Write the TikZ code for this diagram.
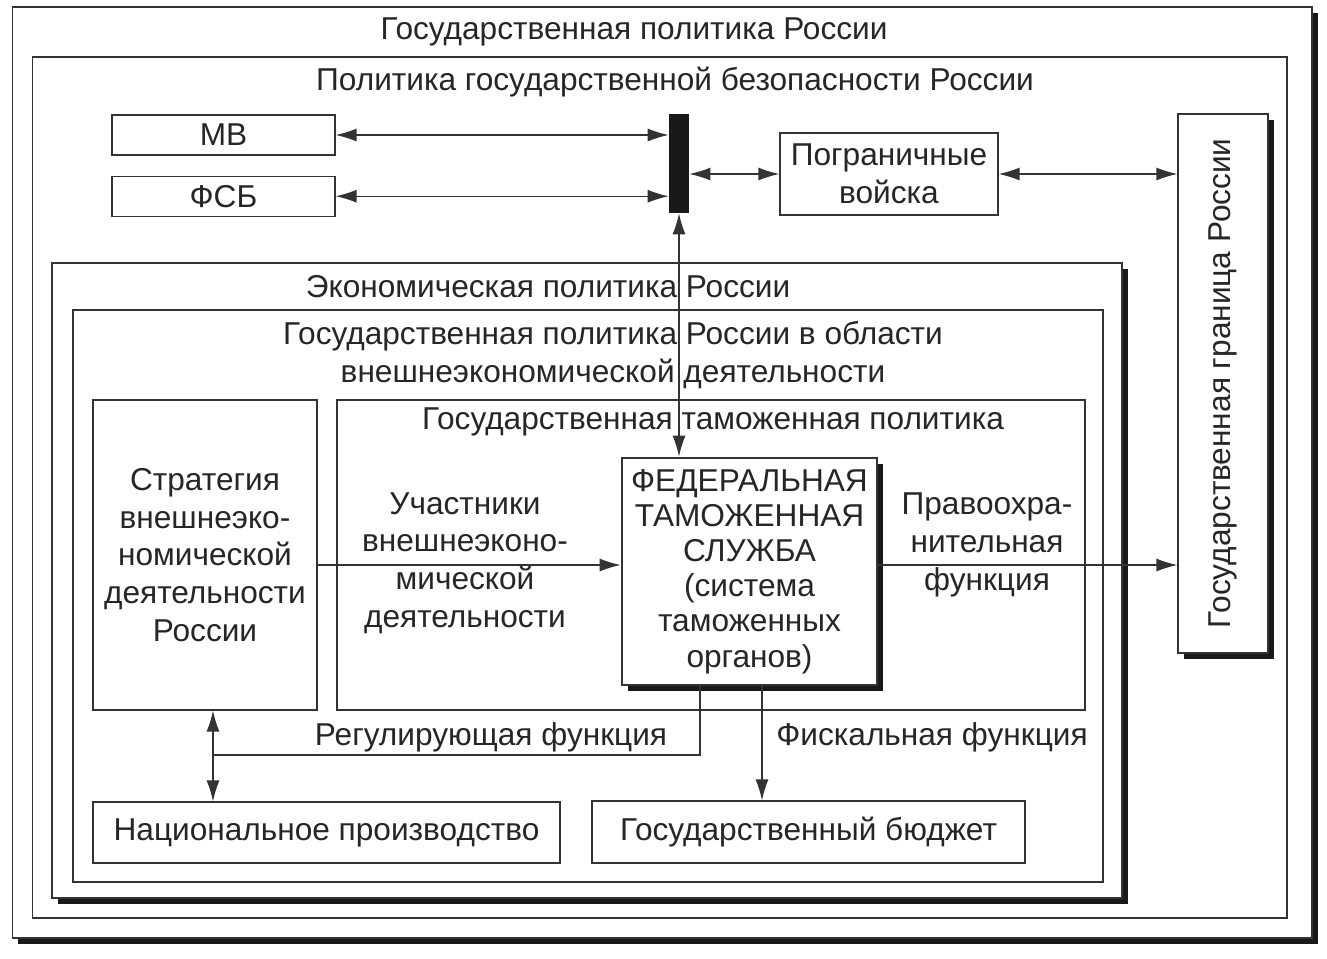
\documentclass[tikz,border=0pt]{standalone}
\usepackage{fontspec}
\setmainfont{Liberation Sans}
\usetikzlibrary{arrows.meta, positioning, shadows}

\begin{document}
\begin{tikzpicture}[
    x=0.02cm, y=-0.02cm,
    every node/.style={
        font=\fontsize{18}{21.5}\selectfont,
        text=black!85
    },
    frame/.style={
        draw=black!80,
        fill=white,
        line width=0.7pt,
        inner sep=0pt
    },
    shadowed/.style={
        drop shadow={shadow xshift=0.12cm, shadow yshift=-0.12cm,
                     fill=black!90, opacity=1}
    },
    box/.style={
        frame,
        align=center
    },
    agency/.style={
        box,
        minimum width=4.46cm,
        minimum height=0.8cm
    },
    title/.style={
        align=center,
        inner sep=0pt
    },
    arrow/.style={
        -{Latex[length=0.42cm, width=0.26cm]},
        line width=0.7pt,
        draw=black!80
    },
    twoway/.style={
        {Latex[length=0.42cm, width=0.26cm]}-{Latex[length=0.42cm, width=0.26cm]},
        line width=0.7pt,
        draw=black!80
    },
    link/.style={
        line width=0.7pt,
        draw=black!80
    }
]
\useasboundingbox (0,0) rectangle (1327,958);

% Frames
\node (state) [frame, shadowed, minimum width=26cm, minimum height=18.62cm] at (662,472.5) {};
\node (security) [frame, minimum width=25.1cm, minimum height=17.22cm] at (659.5,487.5) {};
\node (econ) [frame, shadowed, minimum width=21.4cm, minimum height=12.7cm] at (587,580.5) {};
\node (ved) [frame, minimum width=20.6cm, minimum height=11.44cm] at (588,596) {};
\node (customs) [frame, minimum width=14.96cm, minimum height=6.2cm] at (711,555) {};

% Nodes
\node (mv) [agency] at (223.5,135) {МВ};
\node (fsb) [agency, below=0.4cm of mv] {ФСБ};
\node (hub) [fill=black!90, inner sep=0pt, minimum width=0.4cm, minimum height=1.98cm] at (679,163.5) {};
\node (troops) [box, minimum width=4.36cm, minimum height=1.64cm] at (889,174) {Пограничные\\войска};
\node (border) [frame, shadowed, minimum width=1.8cm, minimum height=10.78cm] at (1223,383.5) {};
\node (borderlabel) [rotate=90] at (border) {Государственная граница России};
\node (strategy) [box, minimum width=4.48cm, minimum height=6.2cm] at (205,555) {Стратегия\\внешнеэко-\\номической\\деятельности\\России};
\node (fts) [box, shadowed, line width=1.6pt, minimum width=5.1cm, minimum height=4.54cm,
    font=\fontsize{18}{20}\selectfont] at (749.5,571.5) {ФЕДЕРАЛЬНАЯ\\ТАМОЖЕННАЯ\\СЛУЖБА\\(система\\таможенных\\органов)};
\node (production) [box, minimum width=9.34cm, minimum height=1.22cm] at (326.5,832.5) {Национальное производство};
\node (budget) [box, minimum width=8.66cm, minimum height=1.24cm] at (808.5,832) {Государственный бюджет};

% Titles
\node (statetitle) [title] at (634,32) {Государственная политика России};
\node (sectitle) [title] at (675,82) {Политика государственной безопасности России};
\node (econtitle) [title] at (548,287) {Экономическая политика России};
\node (vedtitle) [title] at (613,355) {Государственная политика России в области\\внешнеэкономической деятельности};
\node (customstitle) [title] at (713,422) {Государственная таможенная политика};
\node (inlabel) [title] at (465,563) {Участники\\внешнеэконо-\\мической\\деятельности};
\node (lawlabel) [title] at (987,545) {Правоохра-\\нительная\\функция};
\node (reglabel) [title] at (491,737) {Регулирующая функция};
\node (fisclabel) [title] at (932,737) {Фискальная функция};

% Paths
\coordinate (flow) at (0,565);
\coordinate (reg) at (213,755);
\draw [twoway] (mv.east) -- (mv.east -| hub.west);
\draw [twoway] (fsb.east) -- (fsb.east -| hub.west);
\draw [twoway] (hub.east |- troops.west) -- (troops.west);
\draw [twoway] (troops.east) -- (troops.east -| border.west);
\draw [twoway] (hub.south) -- (hub.south |- fts.north);
\draw [arrow] (strategy.east |- flow) -- (fts.west |- flow);
\draw [arrow] (fts.east |- flow) -- (border.west |- flow);
\draw [link] ([xshift=-0.99cm]fts.south) |- (reg);
\draw [twoway] (reg |- strategy.south) -- (reg |- production.north);
\draw [arrow] ([xshift=0.25cm]fts.south) -- ([xshift=0.25cm]fts.south |- budget.north);

\end{tikzpicture}
\end{document}
